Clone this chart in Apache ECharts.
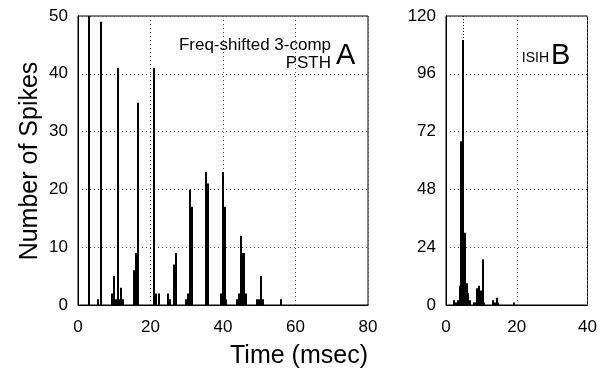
<!DOCTYPE html>
<html><head><meta charset="utf-8">
<script src="https://cdn.jsdelivr.net/npm/echarts@6/dist/echarts.min.js"></script>
<style>html,body{margin:0;padding:0;background:#fff}#c{width:600px;height:377px}</style>
</head><body><div id="c"></div>
<script>
// Panel A: PSTH (bin centers in msec, 0.5 ms bins) and counts
const psthTime = [2.9,5.4,6.4,9.4,9.9,10.4,10.9,11.4,11.9,12.4,15.4,15.9,16.4,20.9,21.4,22.4,24.9,25.4,26.4,26.9,29.9,30.4,30.9,31.4,35.4,35.9,39.4,39.9,40.4,40.9,43.9,44.4,44.9,45.4,45.9,46.4,49.4,49.9,50.4,50.9,55.9];
const psthCount = [60,1,49,2,5,1,41,1,3,1,6,9,35,41,2,2,2,1,7,9,1,2,20,17,23,21,2,23,17,1,1,2,12,9,9,2,1,1,5,1,1];
// Panel B: ISIH
const isihTime = [2.3,2.8,3.3,3.8,4.3,4.8,5.3,5.8,6.3,6.8,7.8,8.3,8.8,9.3,9.8,10.3,10.8,13.3,13.8,14.3,14.8,19.3];
const isihCount = [2,1,2,8,68,110,30,9,5,2,1,1,7,8,6,19,1,2,1,3,1,1];
const binWidth = 0.5;
const xTicksA = [0,20,40,60,80];
const yTicksA = [0,10,20,30,40,50];
const xTicksB = [0,20,40];
const yTicksB = [0,24,48,72,96,120];
const isihMarker = 4.8;

const FONT = '"Liberation Sans", Arial, Helvetica, sans-serif';
const chart = echarts.init(document.getElementById('c'));

function renderBar(params, api){
  const c = api.value(0), v = api.value(1);
  const p0 = api.coord([c - binWidth/2, v]);
  const p1 = api.coord([c + binWidth/2, 0]);
  const x0 = Math.round(p0[0]);
  const w = Math.max(2, Math.round(p1[0]-p0[0]));
  const rect = echarts.graphic.clipRectByRect(
    {x:x0, y:p0[1], width:w, height:p1[1]-p0[1]},
    {x:params.coordSys.x, y:params.coordSys.y, width:params.coordSys.width, height:params.coordSys.height});
  if(!rect) return;
  return {type:'rect', shape:rect, style:{fill:'#000'}};
}
const gridLine = {show:true, lineStyle:{color:'#555', type:[1,3], width:1}};
function xAxis(idx, ticks){
  return {type:'value', gridIndex:idx, min:ticks[0], max:ticks[ticks.length-1], interval:ticks[1]-ticks[0],
    axisLine:{show:true, onZero:false, lineStyle:{color:'#000', width:1}}, axisTick:{show:false},
    axisLabel:{color:'#000', fontSize:17, fontFamily:FONT, margin:14},
    splitLine:gridLine};
}
function yAxis(idx, ticks){
  return {type:'value', gridIndex:idx, min:ticks[0], max:ticks[ticks.length-1], interval:ticks[1]-ticks[0],
    axisLine:{show:true, lineStyle:{color:'#000', width:1}}, axisTick:{show:false},
    axisLabel:{color:'#000', fontSize:17, fontFamily:FONT, margin:10},
    splitLine:gridLine};
}
chart.setOption({
  animation:false,
  grid:[
    {left:78, right:232, top:16, bottom:72, show:true, borderColor:'#000', borderWidth:1, backgroundColor:'transparent'},
    {left:446, right:10, top:16, bottom:72, show:true, borderColor:'#000', borderWidth:1, backgroundColor:'transparent'}
  ],
  xAxis:[xAxis(0, xTicksA), xAxis(1, xTicksB)],
  yAxis:[yAxis(0, yTicksA), yAxis(1, yTicksB)],
  graphic:[
    {type:'text', x:299, y:356, style:{text:'Time (msec)', font:'25px '+FONT, fill:'#000', textAlign:'center', textVerticalAlign:'middle'}},
    {type:'text', x:30, y:161, rotation:Math.PI/2, style:{text:'Number of Spikes', font:'25px '+FONT, fill:'#000', textAlign:'center', textVerticalAlign:'middle'}},
    {type:'text', x:331, y:45, style:{text:'Freq-shifted 3-comp', font:'17px '+FONT, fill:'#000', textAlign:'right', textVerticalAlign:'middle'}},
    {type:'text', x:331, y:63, style:{text:'PSTH', font:'17px '+FONT, fill:'#000', textAlign:'right', textVerticalAlign:'middle'}},
    {type:'text', x:336, y:56, style:{text:'A', font:'29px '+FONT, fill:'#000', textAlign:'left', textVerticalAlign:'middle'}},
    {type:'text', x:549, y:58, style:{text:'ISIH', font:'14px '+FONT, fill:'#000', textAlign:'right', textVerticalAlign:'middle'}},
    {type:'text', x:551, y:56, style:{text:'B', font:'29px '+FONT, fill:'#000', textAlign:'left', textVerticalAlign:'middle'}}
  ],
  series:[
    {type:'custom', xAxisIndex:0, yAxisIndex:0, renderItem:renderBar, data:psthTime.map((t,i)=>[t, psthCount[i]]), z:3},
    {type:'custom', xAxisIndex:1, yAxisIndex:1, renderItem:renderBar, data:isihTime.map((t,i)=>[t, isihCount[i]]), z:3,
      markLine:{silent:true, symbol:'none', label:{show:false}, lineStyle:{color:'#000', type:[1,2], width:1}, data:[{xAxis:isihMarker}]}}
  ]
});
</script></body></html>
